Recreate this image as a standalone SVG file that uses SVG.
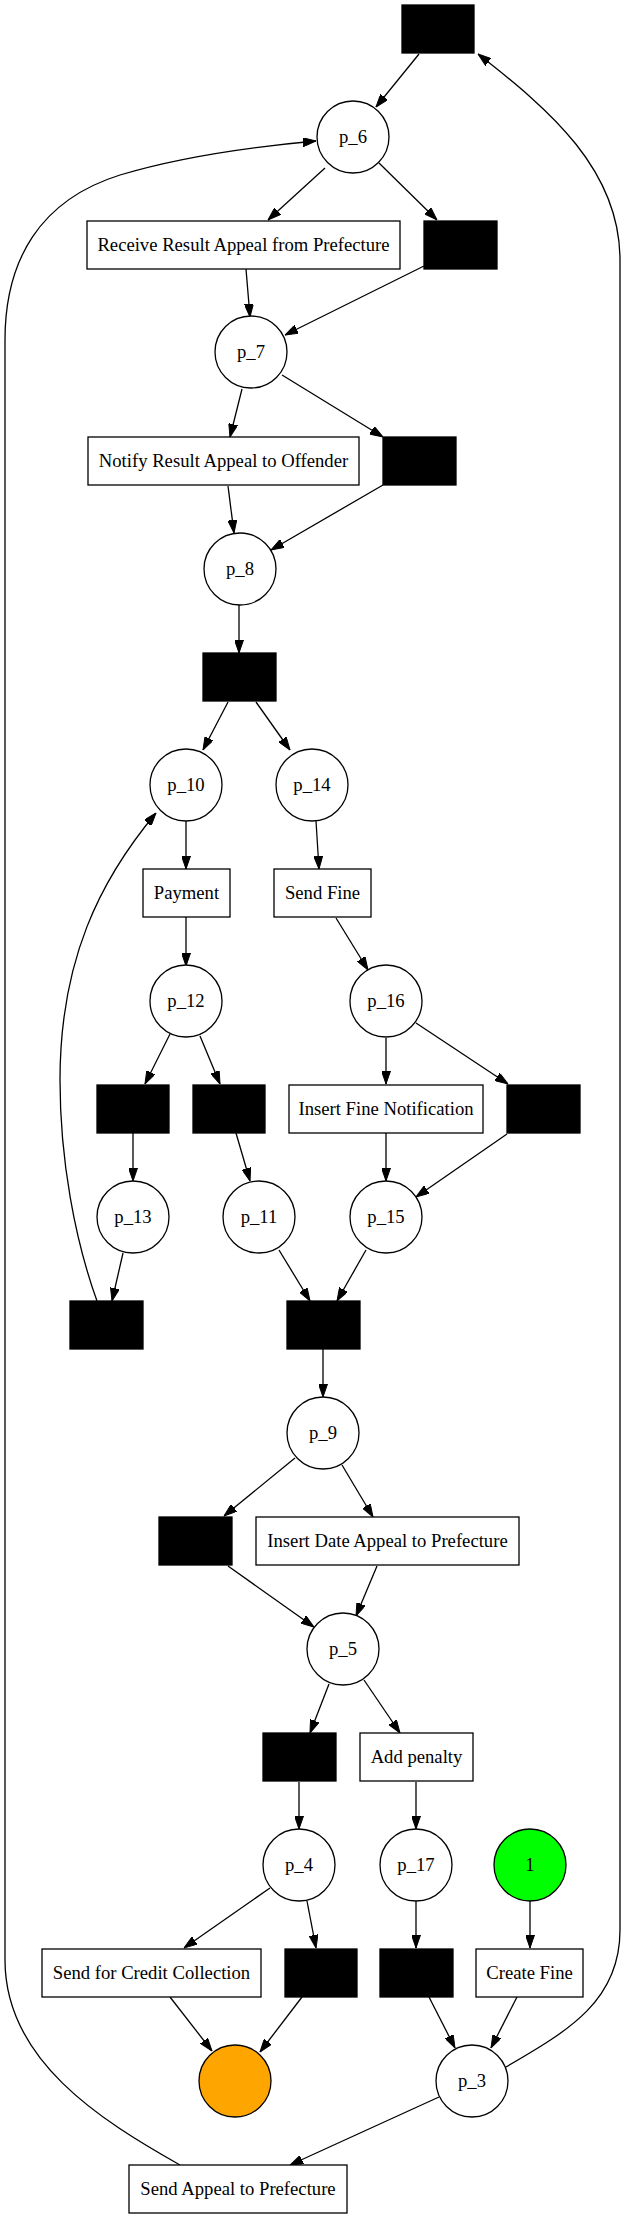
<svg xmlns="http://www.w3.org/2000/svg" width="628" height="2219" viewBox="0 0 628 2219">
<defs>
<marker id="ah" viewBox="0 0 13 9" markerWidth="13" markerHeight="9" refX="13" refY="4.5" orient="auto" markerUnits="userSpaceOnUse">
<path d="M0,0 L13,4.5 L0,9 Z" fill="#000" stroke="#000" stroke-width="1"/>
</marker>
</defs>
<style>
.p{fill:#fff;stroke:#000;stroke-width:1.3}
.t{fill:#000;stroke:#000;stroke-width:1.3}
.b{fill:#fff;stroke:#000;stroke-width:1.3}
text{font-family:"Liberation Serif","Times New Roman",serif;font-size:18.67px;text-anchor:middle;fill:#000}
#edges path,#edges line{stroke:#000;stroke-width:1.3;fill:none;marker-end:url(#ah)}
</style>
<rect x="0" y="0" width="628" height="2219" fill="#fff"/>
<g id="edges">
<line x1="419" y1="54" x2="376" y2="107"/>
<line x1="325" y1="168" x2="268" y2="220"/>
<line x1="379" y1="163" x2="437" y2="220"/>
<line x1="246" y1="269" x2="250" y2="317"/>
<line x1="424" y1="266" x2="285" y2="335"/>
<line x1="242" y1="389" x2="230" y2="437"/>
<line x1="282" y1="375" x2="383" y2="437"/>
<line x1="228" y1="486" x2="234" y2="533"/>
<line x1="383" y1="485" x2="271" y2="550"/>
<line x1="239" y1="605" x2="239" y2="653"/>
<line x1="228" y1="702" x2="203" y2="750"/>
<line x1="256" y1="702" x2="290" y2="750"/>
<line x1="186" y1="821" x2="186" y2="869"/>
<line x1="316" y1="821" x2="319" y2="869"/>
<line x1="186" y1="917" x2="186" y2="966"/>
<line x1="336" y1="918" x2="368" y2="970"/>
<line x1="170" y1="1034" x2="145" y2="1084"/>
<line x1="200" y1="1036" x2="220" y2="1084"/>
<line x1="386" y1="1038" x2="386" y2="1084"/>
<line x1="416" y1="1023" x2="508" y2="1084"/>
<line x1="133" y1="1133" x2="133" y2="1181"/>
<line x1="236" y1="1133" x2="250" y2="1181"/>
<line x1="386" y1="1133" x2="386" y2="1181"/>
<line x1="507" y1="1134" x2="416" y2="1197"/>
<line x1="123" y1="1253" x2="112" y2="1301"/>
<line x1="279" y1="1250" x2="310" y2="1301"/>
<line x1="366" y1="1250" x2="337" y2="1301"/>
<line x1="323" y1="1349" x2="323" y2="1397"/>
<line x1="295" y1="1458" x2="224" y2="1516"/>
<line x1="342" y1="1465" x2="373" y2="1517"/>
<line x1="228" y1="1566" x2="314" y2="1627"/>
<line x1="377" y1="1566" x2="356" y2="1616"/>
<line x1="329" y1="1684" x2="310" y2="1733"/>
<line x1="364" y1="1680" x2="400" y2="1733"/>
<line x1="299" y1="1782" x2="299" y2="1829"/>
<line x1="416" y1="1782" x2="416" y2="1829"/>
<line x1="270" y1="1888" x2="184" y2="1948"/>
<line x1="307" y1="1901" x2="316" y2="1948"/>
<line x1="416" y1="1901" x2="416" y2="1948"/>
<line x1="530" y1="1901" x2="530" y2="1948"/>
<line x1="170" y1="1997" x2="212" y2="2051"/>
<line x1="302" y1="1997" x2="260" y2="2052"/>
<line x1="429" y1="1997" x2="455" y2="2048"/>
<line x1="517" y1="1997" x2="491" y2="2048"/>
<line x1="439" y1="2097" x2="290" y2="2165"/>
<path d="M180,2165 C100,2120 5,2060 5,1960 L5,340 C5,260 40,200 120,175 C180,157 250,147 316,141"/>
<path d="M506,2067 C570,2030 620,2000 620,1930 L620,260 C620,170 550,110 478,54"/>
<path d="M97,1301 C75,1240 60,1160 60,1080 C60,960 100,880 156,813"/>
</g>
<g id="t1"><rect class="t" x="402" y="5" width="72" height="48"/></g>
<g id="p_6"><circle class="p" cx="353" cy="137" r="36"/><text x="353" y="143">p_6</text></g>
<g id="receive"><rect class="b" x="87" y="221" width="313" height="48"/><text x="243.5" y="251">Receive Result Appeal from Prefecture</text></g>
<g id="t2"><rect class="t" x="424" y="221" width="73" height="48"/></g>
<g id="p_7"><circle class="p" cx="251" cy="352" r="36"/><text x="251" y="358">p_7</text></g>
<g id="notify"><rect class="b" x="88" y="437" width="271" height="48"/><text x="223.5" y="467">Notify Result Appeal to Offender</text></g>
<g id="t3"><rect class="t" x="383" y="437" width="73" height="48"/></g>
<g id="p_8"><circle class="p" cx="240" cy="569" r="36"/><text x="240" y="575">p_8</text></g>
<g id="t4"><rect class="t" x="203" y="653" width="73" height="48"/></g>
<g id="p_10"><circle class="p" cx="186" cy="785" r="36"/><text x="186" y="791">p_10</text></g>
<g id="p_14"><circle class="p" cx="312" cy="785" r="36"/><text x="312" y="791">p_14</text></g>
<g id="payment"><rect class="b" x="143" y="869" width="87" height="48"/><text x="186.5" y="899">Payment</text></g>
<g id="sendfine"><rect class="b" x="274" y="869" width="97" height="48"/><text x="322.5" y="899">Send Fine</text></g>
<g id="p_12"><circle class="p" cx="186" cy="1001" r="36"/><text x="186" y="1007">p_12</text></g>
<g id="p_16"><circle class="p" cx="386" cy="1001" r="36"/><text x="386" y="1007">p_16</text></g>
<g id="t5"><rect class="t" x="97" y="1085" width="72" height="48"/></g>
<g id="t6"><rect class="t" x="193" y="1085" width="72" height="48"/></g>
<g id="insertfine"><rect class="b" x="289" y="1085" width="194" height="48"/><text x="386" y="1115">Insert Fine Notification</text></g>
<g id="t7"><rect class="t" x="507" y="1085" width="73" height="48"/></g>
<g id="p_13"><circle class="p" cx="133" cy="1217" r="36"/><text x="133" y="1223">p_13</text></g>
<g id="p_11"><circle class="p" cx="259" cy="1217" r="36"/><text x="259" y="1223">p_11</text></g>
<g id="p_15"><circle class="p" cx="386" cy="1217" r="36"/><text x="386" y="1223">p_15</text></g>
<g id="t8"><rect class="t" x="70" y="1301" width="73" height="48"/></g>
<g id="t9"><rect class="t" x="287" y="1301" width="73" height="48"/></g>
<g id="p_9"><circle class="p" cx="323" cy="1433" r="36"/><text x="323" y="1439">p_9</text></g>
<g id="t10"><rect class="t" x="159" y="1517" width="73" height="48"/></g>
<g id="insertdate"><rect class="b" x="256" y="1517" width="263" height="48"/><text x="387.5" y="1547">Insert Date Appeal to Prefecture</text></g>
<g id="p_5"><circle class="p" cx="343" cy="1649" r="36"/><text x="343" y="1655">p_5</text></g>
<g id="t11"><rect class="t" x="263" y="1733" width="73" height="48"/></g>
<g id="addpenalty"><rect class="b" x="360" y="1733" width="113" height="48"/><text x="416.5" y="1763">Add penalty</text></g>
<g id="p_4"><circle class="p" cx="299" cy="1865" r="36"/><text x="299" y="1871">p_4</text></g>
<g id="p_17"><circle class="p" cx="416" cy="1865" r="36"/><text x="416" y="1871">p_17</text></g>
<g id="source"><circle class="p" cx="530" cy="1865" r="36" style="fill:#00ff00"/><text x="530" y="1871">1</text></g>
<g id="sendcredit"><rect class="b" x="42" y="1949" width="219" height="48"/><text x="151.5" y="1979">Send for Credit Collection</text></g>
<g id="t12"><rect class="t" x="285" y="1949" width="72" height="48"/></g>
<g id="t13"><rect class="t" x="380" y="1949" width="73" height="48"/></g>
<g id="createfine"><rect class="b" x="476" y="1949" width="107" height="48"/><text x="529.5" y="1979">Create Fine</text></g>
<g id="sink"><circle class="p" cx="235" cy="2081" r="36" style="fill:#ffa500"/></g>
<g id="p_3"><circle class="p" cx="472" cy="2081" r="36"/><text x="472" y="2087">p_3</text></g>
<g id="sendappeal"><rect class="b" x="129" y="2165" width="218" height="48"/><text x="238" y="2195">Send Appeal to Prefecture</text></g>
</svg>
